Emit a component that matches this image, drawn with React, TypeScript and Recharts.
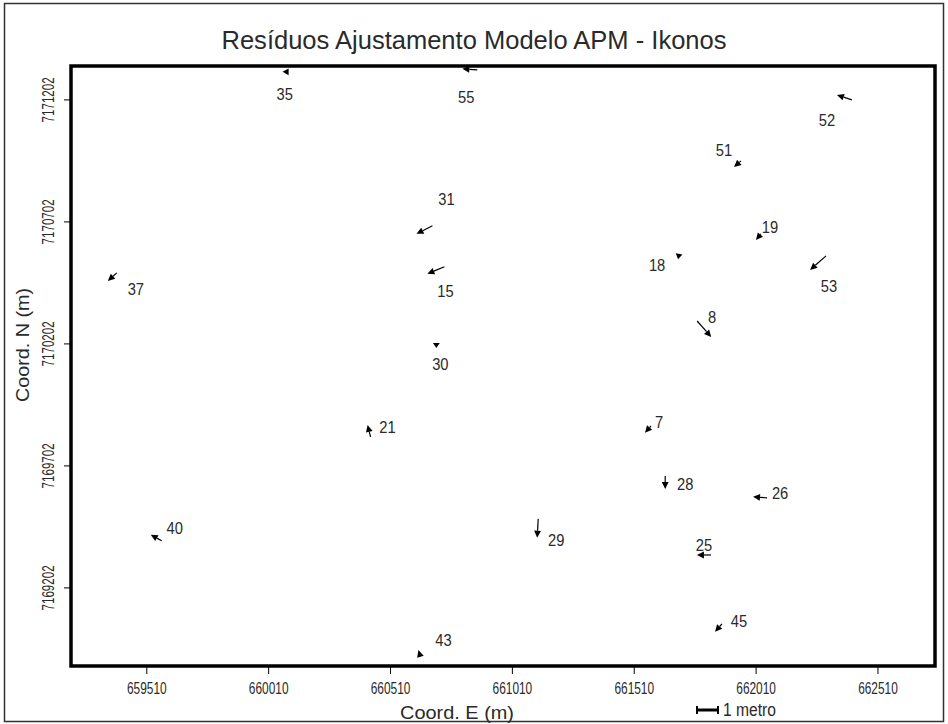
import React from 'react';
import { ScatterChart, Scatter, XAxis, YAxis, ReferenceArea } from 'recharts';

// Control points: id, UTM coordinates (m) and adjustment residuals (m)
const pointIds = ['35', '55', '52', '51', '31', '15', '37', '19', '18', '53', '8', '30', '21', '7', '28', '26', '40', '29', '25', '45', '43'];
const eastings = [660092, 660866, 662403, 661948, 660682, 660731, 659387, 662030, 661694, 662297, 661768, 660698, 660428, 661579, 661637, 662055, 659571, 661116, 661825, 661870, 660633];
const northings = [7171317, 7171325, 7171202, 7170952, 7170686, 7170518, 7170493, 7170653, 7170571, 7170563, 7170296, 7170206, 7169821, 7169866, 7169661, 7169571, 7169395, 7169485, 7169337, 7169055, 7168919];
const residualE = [-0.29, -0.71, -0.71, -0.33, -0.76, -0.81, -0.43, -0.24, -0.05, -0.76, 0.67, 0, -0.14, -0.29, 0, -0.67, -0.52, -0.05, -0.67, -0.33, -0.1];
const residualN = [0, 0.05, 0.24, -0.29, -0.38, -0.33, -0.38, -0.29, -0.25, -0.67, -0.76, -0.24, 0.57, -0.33, -0.62, 0.05, 0.29, -0.9, 0, -0.38, 0.33];

const eastTicks = [659510, 660010, 660510, 661010, 661510, 662010, 662510];
const northTicks = [7169202, 7169702, 7170202, 7170702, 7171202];
const eastDomain: [number, number] = [659199, 662744];
const northDomain: [number, number] = [7168882, 7171341];

// label placement around each station, in px
const labelOffsets: Record<string, [number, number]> = {
  '35': [-4, 22], '55': [-11, 27], '52': [-25, 20], '51': [-17, -11], '31': [14, -27],
  '15': [1, 24], '37': [19, 16], '19': [9, -7], '18': [-22, 11], '53': [3, 30],
  '8': [15, -4], '30': [4, 21], '21': [17, -10], '7': [8, -4], '28': [20, 8],
  '26': [13, -5], '40': [13, -13], '29': [18, 21], '25': [-7, -10], '45': [17, -3],
  '43': [23, -17],
};

// residual vectors are exaggerated: 1 m of residual = 21 px on screen
const PX_PER_METRE = 21;
const FONT = '"Liberation Sans", Arial, sans-serif';
const INK = '#2a2a2a';

const points = pointIds.map((id, i) => ({
  id,
  e: eastings[i],
  n: northings[i],
  de: residualE[i],
  dn: residualN[i],
}));

const ResidualArrow = (props: any) => {
  const { cx, cy, payload } = props;
  if (cx == null || cy == null) return null;
  const hx = cx + payload.de * PX_PER_METRE;
  const hy = cy - payload.dn * PX_PER_METRE;
  const len = Math.hypot(hx - cx, hy - cy);
  const ux = len ? (hx - cx) / len : 0;
  const uy = len ? (hy - cy) / len : 1;
  const headLen = Math.min(7, Math.max(len, 4));
  const bx = hx - ux * headLen;
  const by = hy - uy * headLen;
  const px = -uy * 3.4;
  const py = ux * 3.4;
  const [ox, oy] = labelOffsets[payload.id] || [12, 0];
  return (
    <g>
      {len > headLen && <line x1={cx} y1={cy} x2={bx} y2={by} stroke="#000" strokeWidth={1.2} />}
      <polygon points={`${hx},${hy} ${bx + px},${by + py} ${bx - px},${by - py}`} fill="#000" />
      <text
        transform={`translate(${cx + ox} ${cy + oy}) scale(0.92 1)`}
        textAnchor="middle"
        dominantBaseline="central"
        fontSize={16}
        fontFamily={FONT}
        fill={INK}
      >
        {payload.id}
      </text>
    </g>
  );
};

const EastTick = (props: any) => {
  const { x, y, payload } = props;
  return (
    <text
      transform={`translate(${x} ${y + 18}) scale(0.7 1)`}
      textAnchor="middle"
      fontSize={17}
      fontFamily={FONT}
      fill={INK}
    >
      {payload.value}
    </text>
  );
};

const NorthTick = (props: any) => {
  const { x, y, payload } = props;
  return (
    <text
      transform={`translate(${x - 8} ${y}) rotate(-90) scale(0.68 1)`}
      textAnchor="middle"
      fontSize={17}
      fontFamily={FONT}
      fill={INK}
    >
      {payload.value}
    </text>
  );
};

export default function App() {
  return (
    <div style={{ position: 'absolute', left: 0, top: 0, width: 948, height: 724, background: '#fff' }}>
      <ScatterChart
        width={948}
        height={724}
        margin={{ top: 66, right: 13, bottom: 0, left: 0 }}
      >
        <XAxis
          type="number"
          dataKey="e"
          domain={eastDomain}
          ticks={eastTicks}
          interval={0}
          allowDataOverflow
          height={58}
          axisLine={false}
          stroke="#000"
          tickSize={8}
          tick={<EastTick />}
        />
        <YAxis
          type="number"
          dataKey="n"
          domain={northDomain}
          ticks={northTicks}
          interval={0}
          allowDataOverflow
          width={71}
          axisLine={false}
          stroke="#000"
          tickSize={7}
          tick={<NorthTick />}
        />
        <ReferenceArea
          x1={eastDomain[0]}
          x2={eastDomain[1]}
          y1={northDomain[0]}
          y2={northDomain[1]}
          fill="none"
          stroke="#000"
          strokeWidth={3.5}
          ifOverflow="visible"
        />
        <Scatter data={points} shape={<ResidualArrow />} isAnimationActive={false} />
      </ScatterChart>
      <svg width={948} height={724} style={{ position: 'absolute', left: 0, top: 0, pointerEvents: 'none' }}>
        <rect x={4.5} y={3.5} width={939} height={718} fill="none" stroke="#333" strokeWidth={1.5} />
        <text x={474} y={49} textAnchor="middle" fontSize={26} fontFamily={FONT} fill={INK} textLength={505} lengthAdjust="spacingAndGlyphs">
          Resíduos Ajustamento Modelo APM - Ikonos
        </text>
        <text x={457} y={719} textAnchor="middle" fontSize={19} fontFamily={FONT} fill={INK} textLength={114} lengthAdjust="spacingAndGlyphs">
          Coord. E (m)
        </text>
        <text
          transform="translate(29 345) rotate(-90)"
          textAnchor="middle"
          fontSize={19}
          fontFamily={FONT}
          fill={INK}
          textLength={114}
          lengthAdjust="spacingAndGlyphs"
        >
          Coord. N (m)
        </text>
        {/* scale bar for the residual vectors */}
        <g stroke="#000" strokeWidth={2}>
          <line x1={697} y1={710} x2={697 + PX_PER_METRE} y2={710} strokeWidth={3} />
          <line x1={697} y1={706} x2={697} y2={714} />
          <line x1={697 + PX_PER_METRE} y1={706} x2={697 + PX_PER_METRE} y2={714} />
        </g>
        <text x={723} y={716} fontSize={18} fontFamily={FONT} fill={INK} textLength={53} lengthAdjust="spacingAndGlyphs">
          1 metro
        </text>
      </svg>
    </div>
  );
}
